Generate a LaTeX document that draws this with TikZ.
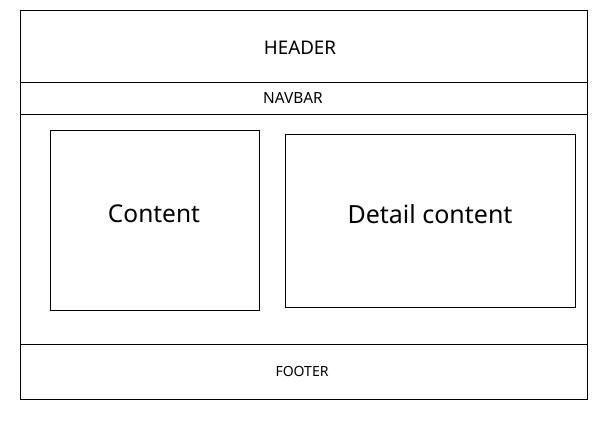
\documentclass[tikz,border=0pt]{standalone}
\usepackage{fontspec}
\setmainfont{Noto Sans}
\begin{document}
\begin{tikzpicture}[x=1pt,y=-1pt,
  box/.style={draw=black,line width=0.9pt,inner sep=0pt,fill=none},
  lbl/.style={inner sep=0pt,anchor=center,text=black}]
\useasboundingbox (0,0) rectangle (614,421);
\fill[white] (0,0) rectangle (614,421);
% regions
\node[box,minimum width=567pt,minimum height=71.5pt] (header) at (304,46.25) {};
\node[box,minimum width=567pt,minimum height=32pt] (navbar) at (304,98) {};
\node[box,minimum width=567pt,minimum height=230pt] (main) at (304,229) {};
\node[box,minimum width=567pt,minimum height=55pt] (footer) at (304,371.5) {};
\node[box,minimum width=209pt,minimum height=180pt] (content) at (154.5,220) {};
\node[box,minimum width=290pt,minimum height=173pt] (detail) at (430,220.5) {};
% labels
\node[lbl,font=\fontsize{18.8}{22}\selectfont] (headertxt) at (300,47.5) {HEADER};
\node[lbl,font=\fontsize{15.4}{18}\selectfont] (navtxt) at (293,97.5) {NAVBAR};
\node[lbl,font=\fontsize{14}{17}\selectfont] (foottxt) at (302,371) {FOOTER};
\node[lbl,font=\fontsize{24.5}{29}\selectfont] (contenttxt) at (154,214) {Content};
\node[lbl,font=\fontsize{25}{29}\selectfont] (detailtxt) at (430,214) {Detail content};
\end{tikzpicture}
\end{document}
